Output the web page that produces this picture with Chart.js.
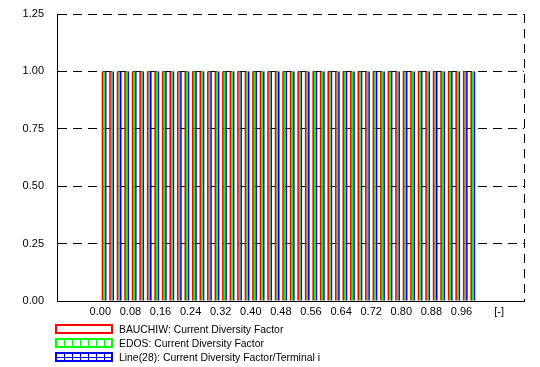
<!DOCTYPE html>
<html>
<head>
<meta charset="utf-8">
<script src="https://cdn.jsdelivr.net/npm/chart.js@4/dist/chart.umd.min.js"></script>
<style>
  html, body { margin:0; padding:0; background:#fff; }
  #wrap { position:relative; width:540px; height:367px; font-family:"Liberation Sans", Arial, sans-serif; }
  #c { position:absolute; left:0; top:0; }
  .lg { position:absolute; left:55px; height:12px; display:flex; align-items:center; font-size:10.4px; color:#000; white-space:nowrap; }
  .lg canvas { display:block; margin-right:6px; }
</style>
</head>
<body>
<div id="wrap">
  <canvas id="c" width="540" height="367"></canvas>
  <div class="lg" style="top:323px"><canvas id="lg0" width="58" height="10"></canvas><span>BAUCHIW: Current Diversity Factor</span></div>
  <div class="lg" style="top:337px"><canvas id="lg1" width="58" height="10"></canvas><span>EDOS: Current Diversity Factor</span></div>
  <div class="lg" style="top:351px"><canvas id="lg2" width="58" height="10"></canvas><span>Line(28): Current Diversity Factor/Terminal i</span></div>
</div>
<script>
// ---- data ----
const binCenters = [0.01,0.03,0.05,0.07,0.09,0.11,0.13,0.15,0.17,0.19,
                    0.21,0.23,0.25,0.27,0.29,0.31,0.33,0.35,0.37,0.39,
                    0.41,0.43,0.45,0.47,0.49,0.51,0.53,0.55,0.57,0.59,
                    0.61,0.63,0.65,0.67,0.69,0.71,0.73,0.75,0.77,0.79,
                    0.81,0.83,0.85,0.87,0.89,0.91,0.93,0.95,0.97,0.99];
const bauchiw = [1,1,1,1,1,1,1,1,1,1, 1,1,1,1,1,1,1,1,1,1, 1,1,1,1,1,1,1,1,1,1, 1,1,1,1,1,1,1,1,1,1, 1,1,1,1,1,1,1,1,1,1];
const edos    = [1,1,1,1,1,1,1,1,1,1, 1,1,1,1,1,1,1,1,1,1, 1,1,1,1,1,1,1,1,1,1, 1,1,1,1,1,1,1,1,1,1, 1,1,1,1,1,1,1,1,1,1];
const line28  = [1,1,1,1,1,1,1,1,1,1, 1,1,1,1,1,1,1,1,1,1, 1,1,1,1,1,1,1,1,1,1, 1,1,1,1,1,1,1,1,1,1, 1,1,1,1,1,1,1,1,1,1];
const seriesNames = ['BAUCHIW: Current Diversity Factor','EDOS: Current Diversity Factor','Line(28): Current Diversity Factor/Terminal i'];
const xTickValues = [0.00,0.08,0.16,0.24,0.32,0.40,0.48,0.56,0.64,0.72,0.80,0.88,0.96];
const xUnitLabel = '[-]';
const xUnitPos = 1.06;
const yTickValues = [0.00,0.25,0.50,0.75,1.00,1.25];

// ---- legend swatches ----
function swatch(id, color, vdiv, hmid){
  const cv = document.getElementById(id), g = cv.getContext('2d');
  g.strokeStyle = color; g.lineWidth = 2;
  g.strokeRect(1,1,56,8);
  g.lineWidth = 1;
  if (vdiv){ for(let i=1;i<7;i++){ const x = Math.round(1 + i*8) + 0.5; g.beginPath(); g.moveTo(x,1); g.lineTo(x,9); g.stroke(); } }
  if (hmid){ g.beginPath(); g.moveTo(1,5.5); g.lineTo(57,5.5); g.stroke(); }
}
swatch('lg0','#ff0000',false,false);
swatch('lg1','#00ff00',true,false);
swatch('lg2','#0000ff',true,true);

const toPts = arr => arr.map((v,i)=>({x:binCenters[i], y:v}));
const font = {family:'"Liberation Sans", Arial, sans-serif', size:11};
const barStyle = {borderWidth:0, barThickness:1.6, inflateAmount:0, categoryPercentage:1.0};

new Chart(document.getElementById('c'), {
  type:'bar',
  data:{
    datasets:[
      Object.assign({label:seriesNames[0], data:toPts(bauchiw), backgroundColor:'#ff0000'}, barStyle),
      Object.assign({label:seriesNames[1], data:toPts(edos),    backgroundColor:'#00ff00'}, barStyle),
      Object.assign({label:seriesNames[2], data:toPts(line28),  backgroundColor:'#0000ff'}, barStyle)
    ]
  },
  options:{
    responsive:false, animation:false, devicePixelRatio:1,
    layout:{padding:{top:14, right:16, bottom:46, left:0}},
    plugins:{legend:{display:false}, tooltip:{enabled:false}},
    scales:{
      x:{
        type:'linear', min:-0.1151, max:1.1261, offset:false,
        afterBuildTicks: s => { s.ticks = xTickValues.map(v=>({value:v})).concat([{value:xUnitPos},{value:s.max}]); },
        afterFit: s => { s.height = 20; },
        ticks:{ font, color:'#000', padding:4, maxRotation:0, autoSkip:false,
          callback: v => { if (Math.abs(v - xUnitPos) < 1e-9) return xUnitLabel; const t = xTickValues.find(u=>Math.abs(u-v)<1e-9); return t===undefined ? '' : t.toFixed(2); } },
        grid:{ offset:false, drawTicks:false, lineWidth:1,
          color: ctx => (ctx.tick && Math.abs(ctx.tick.value - ctx.scale.max) < 1e-9) ? '#000' : 'rgba(0,0,0,0)' },
        border:{display:true, color:'#000', width:1, dash:[9,6]}
      },
      y:{
        min:0, max:1.25,
        afterBuildTicks: s => { s.ticks = yTickValues.map(v=>({value:v})); },
        afterFit: s => { s.width = 57; s.paddingTop = 6; s.paddingBottom = 6; },
        ticks:{ font, color:'#000', padding:13, callback: v => Number(v).toFixed(2) },
        grid:{ drawTicks:false, lineWidth:1, color: ctx => (ctx.tick && ctx.tick.value === 0) ? 'rgba(0,0,0,0)' : '#000' },
        border:{display:true, color:'#000', width:1, dash:[9,6]}
      }
    }
  }
});
</script>
</body>
</html>
